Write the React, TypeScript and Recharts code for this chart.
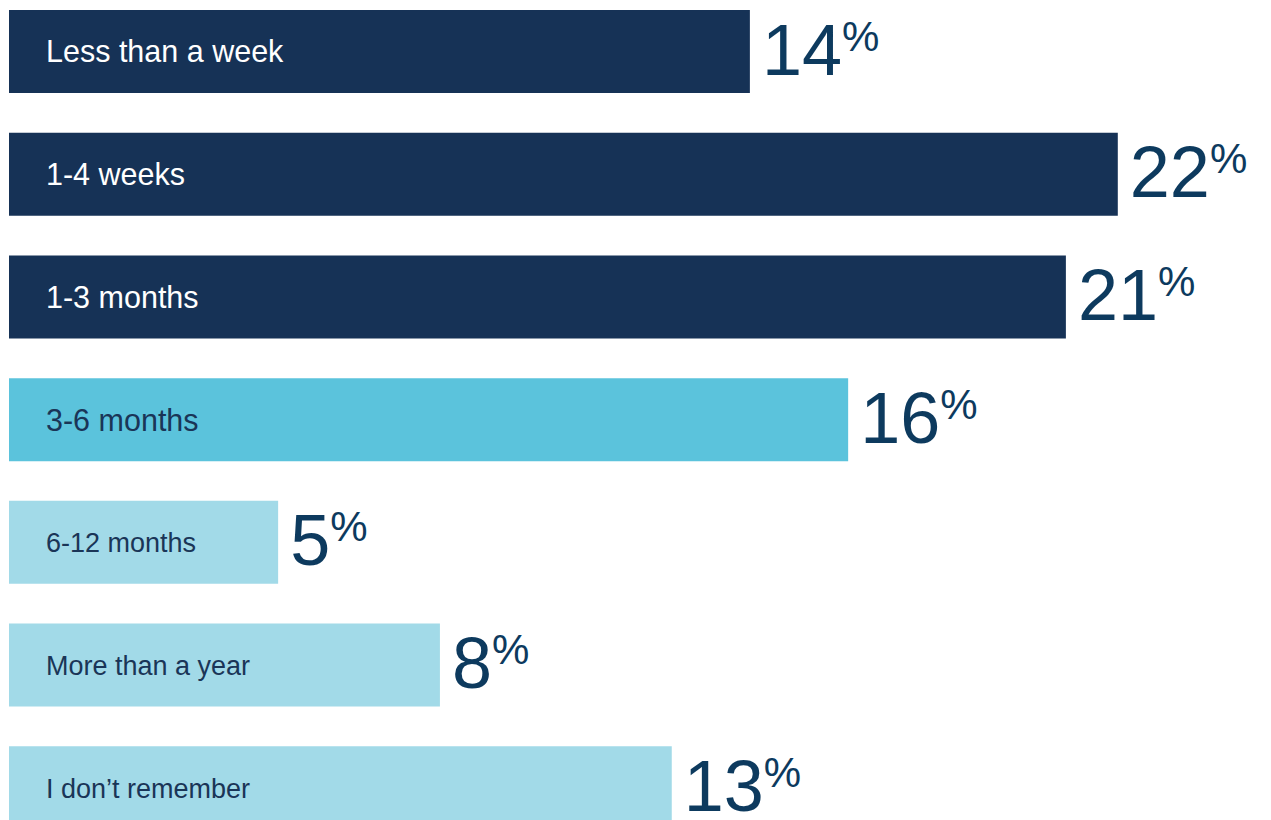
import React from 'react';
import { BarChart, Bar, XAxis, YAxis, Cell, LabelList } from 'recharts';

const categories = [
  'Less than a week',
  '1-4 weeks',
  '1-3 months',
  '3-6 months',
  '6-12 months',
  'More than a year',
  'I don’t remember',
];
// bar lengths
const values = [14.7, 22.0, 20.97, 16.65, 5.34, 8.55, 13.15];
// printed value labels
const valueLabels = ['14', '22', '21', '16', '5', '8', '13'];

const barColors = ['#163256', '#163256', '#163256', '#5BC3DC', '#A2DAE8', '#A2DAE8', '#A2DAE8'];
const nameColors = ['#FFFFFF', '#FFFFFF', '#FFFFFF', '#1A3557', '#1A3557', '#1A3557', '#1A3557'];
const nameSizes = [30.5, 30.5, 30.5, 30.5, 27, 27, 27];

const data = categories.map((name, i) => ({ name, value: values[i], label: valueLabels[i] }));

const FONT = '"Liberation Sans", Arial, Helvetica, sans-serif';

const NameLabel = (props: any) => {
  const { x, y, height, value } = props;
  const i = categories.indexOf(value);
  const fs = nameSizes[i];
  return (
    <text
      x={Number(x) + 37}
      y={Number(y) + Number(height) / 2 + fs * 0.36}
      fill={nameColors[i]}
      fontSize={fs}
      fontFamily={FONT}
    >
      {value}
    </text>
  );
};

const ValueLabel = (props: any) => {
  const { x, y, width, height, value } = props;
  return (
    <text
      x={Number(x) + Number(width) + 12}
      y={Number(y) + Number(height) / 2 + 23}
      fill="#0D3A5E"
      fontSize={72}
      fontFamily={FONT}
    >
      {value}
      <tspan fontSize={42} dy={-24}>%</tspan>
    </text>
  );
};

export default function App() {
  return (
    <div style={{ position: 'absolute', left: 0, top: -10, width: 1271, height: 859, background: '#fff' }}>
      <BarChart
        width={1271}
        height={859}
        data={data}
        layout="vertical"
        margin={{ top: 0, right: 2, bottom: 0, left: 9 }}
        barCategoryGap={0}
      >
        <XAxis type="number" domain={[0, 25]} hide />
        <YAxis type="category" dataKey="name" hide />
        <Bar dataKey="value" barSize={83} isAnimationActive={false}>
          {data.map((d, i) => (
            <Cell key={d.name} fill={barColors[i]} />
          ))}
          <LabelList dataKey="name" content={NameLabel} />
          <LabelList dataKey="label" content={ValueLabel} />
        </Bar>
      </BarChart>
    </div>
  );
}
